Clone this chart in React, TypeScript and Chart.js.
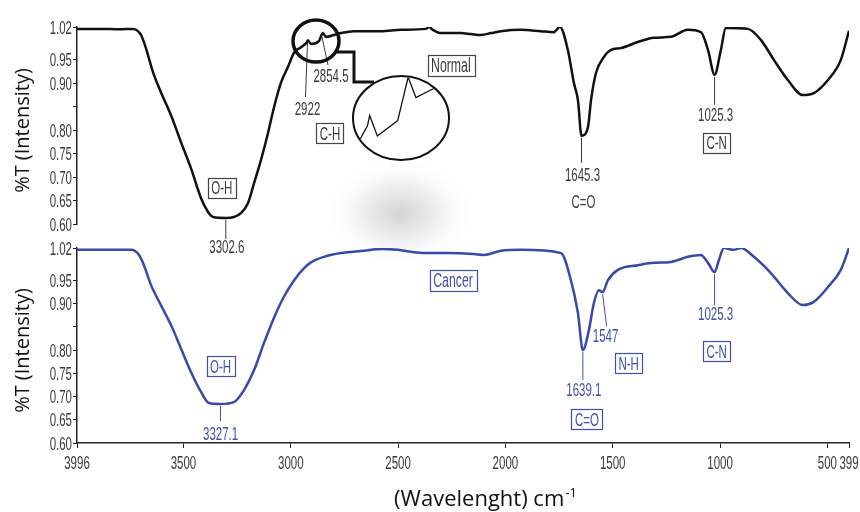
import React, { useEffect, useRef } from 'react';
import { Chart, registerables } from 'chart.js';

Chart.register(...registerables);

// ---------- data ----------
const X_TICKS = [3996, 3500, 3000, 2500, 2000, 1500, 1000, 500, 399];
const X_TICK_LABELS = ['3996', '3500', '3000', '2500', '2000', '1500', '1000', '500', '399'];
const Y_TICKS = [0.6, 0.65, 0.7, 0.75, 0.8, 0.85, 0.9, 0.95, 1.02];
const Y_TICK_LABELS = ['0.60', '0.65', '0.70', '0.75', '0.80', '', '0.90', '0.95', '1.02'];

const NORMAL_WN = [3996, 3884, 3800, 3735, 3698, 3675, 3642, 3605, 3558, 3512, 3465, 3418, 3386, 3362, 3302.6, 3265, 3232, 3199, 3171, 3139, 3106, 3078, 3046, 3013, 2985, 2952, 2924, 2920, 2906, 2869, 2850, 2836, 2799, 2766, 2706, 2580, 2487, 2370, 2356, 2338, 2300, 2207, 2161, 2114, 2067, 2021, 1928, 1835, 1774, 1746, 1709, 1681, 1662, 1645.3, 1615, 1601, 1578, 1541, 1508, 1462, 1383, 1308, 1229, 1150, 1089, 1056, 1025.3, 996, 973, 870, 809, 749, 684, 614, 563, 497, 437, 399];
const NORMAL_T = [1.016, 1.016, 1.015, 1.016, 1.003, 0.975, 0.924, 0.881, 0.832, 0.775, 0.719, 0.655, 0.626, 0.615, 0.613, 0.615, 0.623, 0.645, 0.687, 0.736, 0.794, 0.849, 0.901, 0.935, 0.965, 0.977, 0.988, 0.992, 0.984, 0.990, 1.007, 0.999, 1.003, 1.007, 1.011, 1.011, 1.014, 1.016, 1.020, 1.014, 1.007, 1.007, 1.005, 1.003, 1.007, 1.011, 1.014, 1.011, 1.009, 1.020, 0.971, 0.901, 0.864, 0.788, 0.807, 0.864, 0.922, 0.956, 0.971, 0.975, 0.988, 0.997, 0.999, 1.014, 1.009, 0.971, 0.918, 0.971, 1.018, 1.016, 0.992, 0.950, 0.907, 0.875, 0.879, 0.907, 0.950, 1.012];

const CANCER_WN = [3996, 3850, 3744, 3707, 3684, 3651, 3605, 3558, 3512, 3465, 3418, 3381, 3327.1, 3265, 3218, 3171, 3125, 3078, 3032, 2985, 2939, 2906, 2845, 2766, 2659, 2580, 2501, 2426, 2347, 2268, 2147, 2100, 2021, 1928, 1741, 1695, 1662, 1639.1, 1611, 1588, 1564, 1547, 1522, 1476, 1383, 1308, 1229, 1150, 1089, 1056, 1025.3, 1005, 982, 935, 903, 842, 763, 684, 614, 563, 497, 437, 399];
const CANCER_T = [1.016, 1.016, 1.016, 1.005, 0.983, 0.940, 0.897, 0.854, 0.804, 0.753, 0.710, 0.686, 0.684, 0.688, 0.714, 0.757, 0.815, 0.870, 0.915, 0.950, 0.976, 0.989, 1.001, 1.009, 1.014, 1.018, 1.016, 1.011, 1.009, 1.009, 1.007, 1.005, 1.014, 1.016, 1.009, 0.951, 0.880, 0.800, 0.843, 0.901, 0.929, 0.925, 0.951, 0.973, 0.983, 0.988, 0.990, 1.001, 1.005, 0.988, 0.968, 0.994, 1.020, 1.016, 1.020, 1.001, 0.966, 0.923, 0.897, 0.904, 0.936, 0.973, 1.020];

// annotation texts tied to peak wavenumbers (offsets in px relative to the peak)
type Note = { wn: number; text: string; dx: number; dy: number; box?: boolean; line?: [number, number] };
const NORMAL_NOTES: Note[] = [
  { wn: 3302.6, text: '3302.6', dx: 1, dy: 29, line: [0, 21] },
  { wn: 3302.6, text: 'O-H', dx: -4, dy: -30, box: true },
  { wn: 2922, text: '2922', dx: 0, dy: 67, line: [-2, 56] },
  { wn: 2854.5, text: '2854.5', dx: 9, dy: 40, line: [6, 30] },
  { wn: 2854.5, text: 'C-H', dx: 8, dy: 98, box: true },
  { wn: 1645.3, text: '1645.3', dx: 1, dy: 39, line: [0, 27] },
  { wn: 1645.3, text: 'C=O', dx: 2, dy: 66 },
  { wn: 1025.3, text: '1025.3', dx: 1, dy: 40, line: [0, 30] },
  { wn: 1025.3, text: 'C-N', dx: 2, dy: 68, box: true },
];
const CANCER_NOTES: Note[] = [
  { wn: 3327.1, text: '3327.1', dx: 0, dy: 29, line: [0, 17] },
  { wn: 3327.1, text: 'O-H', dx: 0, dy: -38, box: true },
  { wn: 1639.1, text: '1639.1', dx: 1, dy: 39, line: [0, 30] },
  { wn: 1639.1, text: 'C=O', dx: 4, dy: 69, box: true },
  { wn: 1547, text: '1547', dx: 3, dy: 43, line: [4, 34] },
  { wn: 1547, text: 'N-H', dx: 26, dy: 71, box: true },
  { wn: 1025.3, text: '1025.3', dx: 1, dy: 41, line: [0, 33] },
  { wn: 1025.3, text: 'C-N', dx: 2, dy: 79, box: true },
];

// ---------- style ----------
const SX = 0.82;
const SY = 1.3;
const NARROW = '"Liberation Sans", Arial, sans-serif';
const TICK_COLOR = '#3a3a3a';
const AXIS_COLOR = '#222';

function drawNarrow(
  ctx: CanvasRenderingContext2D,
  text: string,
  x: number,
  y: number,
  color: string,
  size: number,
  align: CanvasTextAlign,
  boxColor?: string | null
) {
  ctx.save();
  ctx.font = `${size}px ${NARROW}`;
  const w = ctx.measureText(text).width * SX;
  const h = size * 0.716 * SY;
  if (boxColor) {
    const pad = 3.5;
    ctx.strokeStyle = boxColor;
    ctx.lineWidth = 1.2;
    ctx.strokeRect(Math.round(x - w / 2 - pad) + 0.5, Math.round(y - h / 2 - pad) + 0.5, Math.round(w + 2 * pad), Math.round(h + 2 * pad));
  }
  ctx.translate(x, y);
  ctx.scale(SX, SY);
  ctx.fillStyle = color;
  ctx.textAlign = align;
  ctx.textBaseline = 'alphabetic';
  ctx.fillText(text, 0, 0.358 * size);
  ctx.restore();
}

function interp(wns: number[], ts: number[], wn: number) {
  for (let i = 0; i < wns.length - 1; i++) {
    const a = wns[i], b = wns[i + 1];
    if ((wn <= a && wn >= b) || (wn >= a && wn <= b)) {
      const f = a === b ? 0 : (wn - a) / (b - a);
      return ts[i] + f * (ts[i + 1] - ts[i]);
    }
  }
  return ts[ts.length - 1];
}

type Panel = {
  key: string;
  wn: number[];
  t: number[];
  color: string;
  noteColor: string;
  boxColor: string;
  notes: Note[];
  title: string;
  titleWn: number;
  titleT: number;
  showX: boolean;
  padTop: number;
  padBottom: number;
  magnifier: boolean;
};

function makePlugin(p: Panel) {
  return {
    id: 'fx_' + p.key,
    afterDraw(chart: any) {
      const ctx: CanvasRenderingContext2D = chart.ctx;
      const xs = chart.scales.x;
      const ys = chart.scales.y;
      const area = chart.chartArea;

      // y tick labels
      Y_TICKS.forEach((v, i) => {
        const lab = Y_TICK_LABELS[i];
        if (!lab) return;
        drawNarrow(ctx, lab, area.left - 5, ys.getPixelForValue(v), TICK_COLOR, 14, 'right');
      });

      // y title
      ctx.save();
      ctx.translate(23, (area.top + area.bottom) / 2 + 5);
      ctx.rotate(-Math.PI / 2);
      ctx.font = '20px "Open Sans", sans-serif';
      ctx.fillStyle = '#111';
      ctx.textAlign = 'center';
      ctx.textBaseline = 'middle';
      ctx.fillText('%T (Intensity)', 0, 0);
      ctx.restore();

      if (p.showX) {
        X_TICKS.forEach((v, i) => {
          drawNarrow(ctx, X_TICK_LABELS[i], xs.getPixelForValue(v), area.bottom + 19, TICK_COLOR, 14, 'center');
        });
        // x title
        ctx.save();
        const main = '(Wavelenght) cm';
        const sup = '-1';
        ctx.font = '22px "Open Sans", sans-serif';
        const w1 = ctx.measureText(main).width;
        ctx.font = '13px "Open Sans", sans-serif';
        const w2 = ctx.measureText(sup).width;
        const x0 = 485 - (w1 + w2) / 2;
        const base = area.bottom + 63;
        ctx.fillStyle = '#111';
        ctx.textAlign = 'left';
        ctx.textBaseline = 'alphabetic';
        ctx.font = '22px "Open Sans", sans-serif';
        ctx.fillText(main, x0, base);
        ctx.font = '13px "Open Sans", sans-serif';
        ctx.fillText(sup, x0 + w1 + 1, base - 9);
        ctx.restore();
      }

      const anchor = (wn: number) => ({
        x: xs.getPixelForValue(wn),
        y: ys.getPixelForValue(interp(p.wn, p.t, wn)),
      });

      // notes
      p.notes.forEach((n) => {
        const a = anchor(n.wn);
        if (n.line) {
          ctx.save();
          ctx.beginPath();
          ctx.moveTo(a.x, a.y + 2);
          ctx.lineTo(a.x + n.line[0], a.y + n.line[1]);
          ctx.strokeStyle = p.noteColor;
          ctx.lineWidth = 1;
          ctx.stroke();
          ctx.restore();
        }
        drawNarrow(ctx, n.text, a.x + n.dx, a.y + n.dy, p.noteColor, 14, 'center', n.box ? p.boxColor : null);
      });

      // panel title box
      drawNarrow(ctx, p.title, xs.getPixelForValue(p.titleWn), ys.getPixelForValue(p.titleT), p.noteColor, 15, 'center', p.boxColor);

      // magnifier
      if (p.magnifier) {
        const a = anchor(2922);
        const cx = a.x + 8.5;
        const cy = a.y;
        ctx.save();
        ctx.strokeStyle = '#111';
        ctx.lineWidth = 3.5;
        ctx.beginPath();
        ctx.ellipse(cx, cy, 23, 21, 0, 0, Math.PI * 2);
        ctx.stroke();
        ctx.lineWidth = 3;
        ctx.beginPath();
        ctx.moveTo(cx + 21, cy + 11);
        ctx.lineTo(cx + 38, cy + 11);
        ctx.lineTo(cx + 38, cy + 41);
        ctx.lineTo(cx + 58, cy + 41);
        ctx.stroke();
        const ex = cx + 85;
        const ey = cy + 77;
        ctx.fillStyle = '#fff';
        ctx.beginPath();
        ctx.ellipse(ex, ey, 48, 42, 0, 0, Math.PI * 2);
        ctx.fill();
        ctx.lineWidth = 2;
        ctx.stroke();
        // magnified curve
        ctx.beginPath();
        ctx.ellipse(ex, ey, 47, 41, 0, 0, Math.PI * 2);
        ctx.clip();
        const cWn = 2863;
        const cT = 0.991;
        ctx.beginPath();
        let first = true;
        for (let i = 0; i < p.wn.length; i++) {
          const wn = p.wn[i];
          if (wn > 2990 || wn < 2700) continue;
          const px = ex + (cWn - wn) * 0.55;
          const py = ey - (p.t[i] - cT) * 2565;
          if (first) { ctx.moveTo(px, py); first = false; } else ctx.lineTo(px, py);
        }
        ctx.lineWidth = 1.3;
        ctx.strokeStyle = '#111';
        ctx.stroke();
        ctx.restore();
      }
    },
  };
}

function makeConfig(p: Panel): any {
  const data = p.wn.map((w, i) => ({ x: w, y: p.t[i] }));
  return {
    type: 'line',
    data: {
      datasets: [
        {
          data,
          borderColor: p.color,
          borderWidth: 2.5,
          pointRadius: 0,
          fill: false,
          cubicInterpolationMode: 'monotone',
        },
      ],
    },
    options: {
      animation: false,
      responsive: false,
      devicePixelRatio: 1,
      events: [],
      layout: { padding: { left: 0, right: 11, top: p.padTop, bottom: p.padBottom } },
      plugins: { legend: { display: false }, tooltip: { enabled: false }, title: { display: false } },
      scales: {
        x: {
          type: 'linear',
          min: 399,
          max: 3996,
          reverse: true,
          display: p.showX,
          afterBuildTicks: (s: any) => {
            s.ticks = X_TICKS.map((v) => ({ value: v }));
          },
          afterFit: (s: any) => {
            s.height = p.showX ? 30 : 0;
          },
          ticks: { display: false },
          grid: { drawOnChartArea: false, drawTicks: true, tickLength: 5, color: AXIS_COLOR, lineWidth: 1 },
          border: { display: true, color: AXIS_COLOR, width: 1.5 },
        },
        y: {
          type: 'linear',
          min: 0.6,
          max: 1.02,
          afterBuildTicks: (s: any) => {
            s.ticks = Y_TICKS.map((v) => ({ value: v }));
          },
          afterFit: (s: any) => {
            s.width = 77;
          },
          ticks: { display: false },
          grid: { drawOnChartArea: false, drawTicks: true, tickLength: 4, color: AXIS_COLOR, lineWidth: 1 },
          border: { display: true, color: AXIS_COLOR, width: 1.5 },
        },
      },
    },
    plugins: [makePlugin(p)],
  };
}

const TOP: Panel = {
  key: 'normal',
  wn: NORMAL_WN,
  t: NORMAL_T,
  color: '#111111',
  noteColor: '#3a3a3a',
  boxColor: '#444444',
  notes: NORMAL_NOTES,
  title: 'Normal',
  titleWn: 2254,
  titleT: 0.939,
  showX: false,
  padTop: 27,
  padBottom: 288,
  magnifier: true,
};

const BOTTOM: Panel = {
  key: 'cancer',
  wn: CANCER_WN,
  t: CANCER_T,
  color: '#3949a8',
  noteColor: '#3f4fae',
  boxColor: '#3f4fae',
  notes: CANCER_NOTES,
  title: 'Cancer',
  titleWn: 2244,
  titleT: 0.951,
  showX: true,
  padTop: 248,
  padBottom: 39,
  magnifier: false,
};

export default function App() {
  const topRef = useRef<HTMLCanvasElement>(null);
  const botRef = useRef<HTMLCanvasElement>(null);

  useEffect(() => {
    const c1 = new Chart(topRef.current as HTMLCanvasElement, makeConfig(TOP));
    const c2 = new Chart(botRef.current as HTMLCanvasElement, makeConfig(BOTTOM));
    return () => {
      c1.destroy();
      c2.destroy();
    };
  }, []);

  return (
    <div style={{ position: 'fixed', left: 0, top: 0, width: 860, height: 512, background: '#fff', overflow: 'hidden' }}>
      <div
        style={{
          position: 'absolute',
          left: 328,
          top: 161,
          width: 144,
          height: 104,
          background:
            'radial-gradient(ellipse closest-side at 50% 50%, rgba(205,205,205,0.85) 0%, rgba(222,222,222,0.6) 45%, rgba(240,240,240,0.3) 75%, rgba(255,255,255,0) 100%)',
        }}
      />
      <canvas ref={topRef} width={860} height={512} style={{ position: 'absolute', left: 0, top: 0 }} />
      <canvas ref={botRef} width={860} height={512} style={{ position: 'absolute', left: 0, top: 0 }} />
    </div>
  );
}
